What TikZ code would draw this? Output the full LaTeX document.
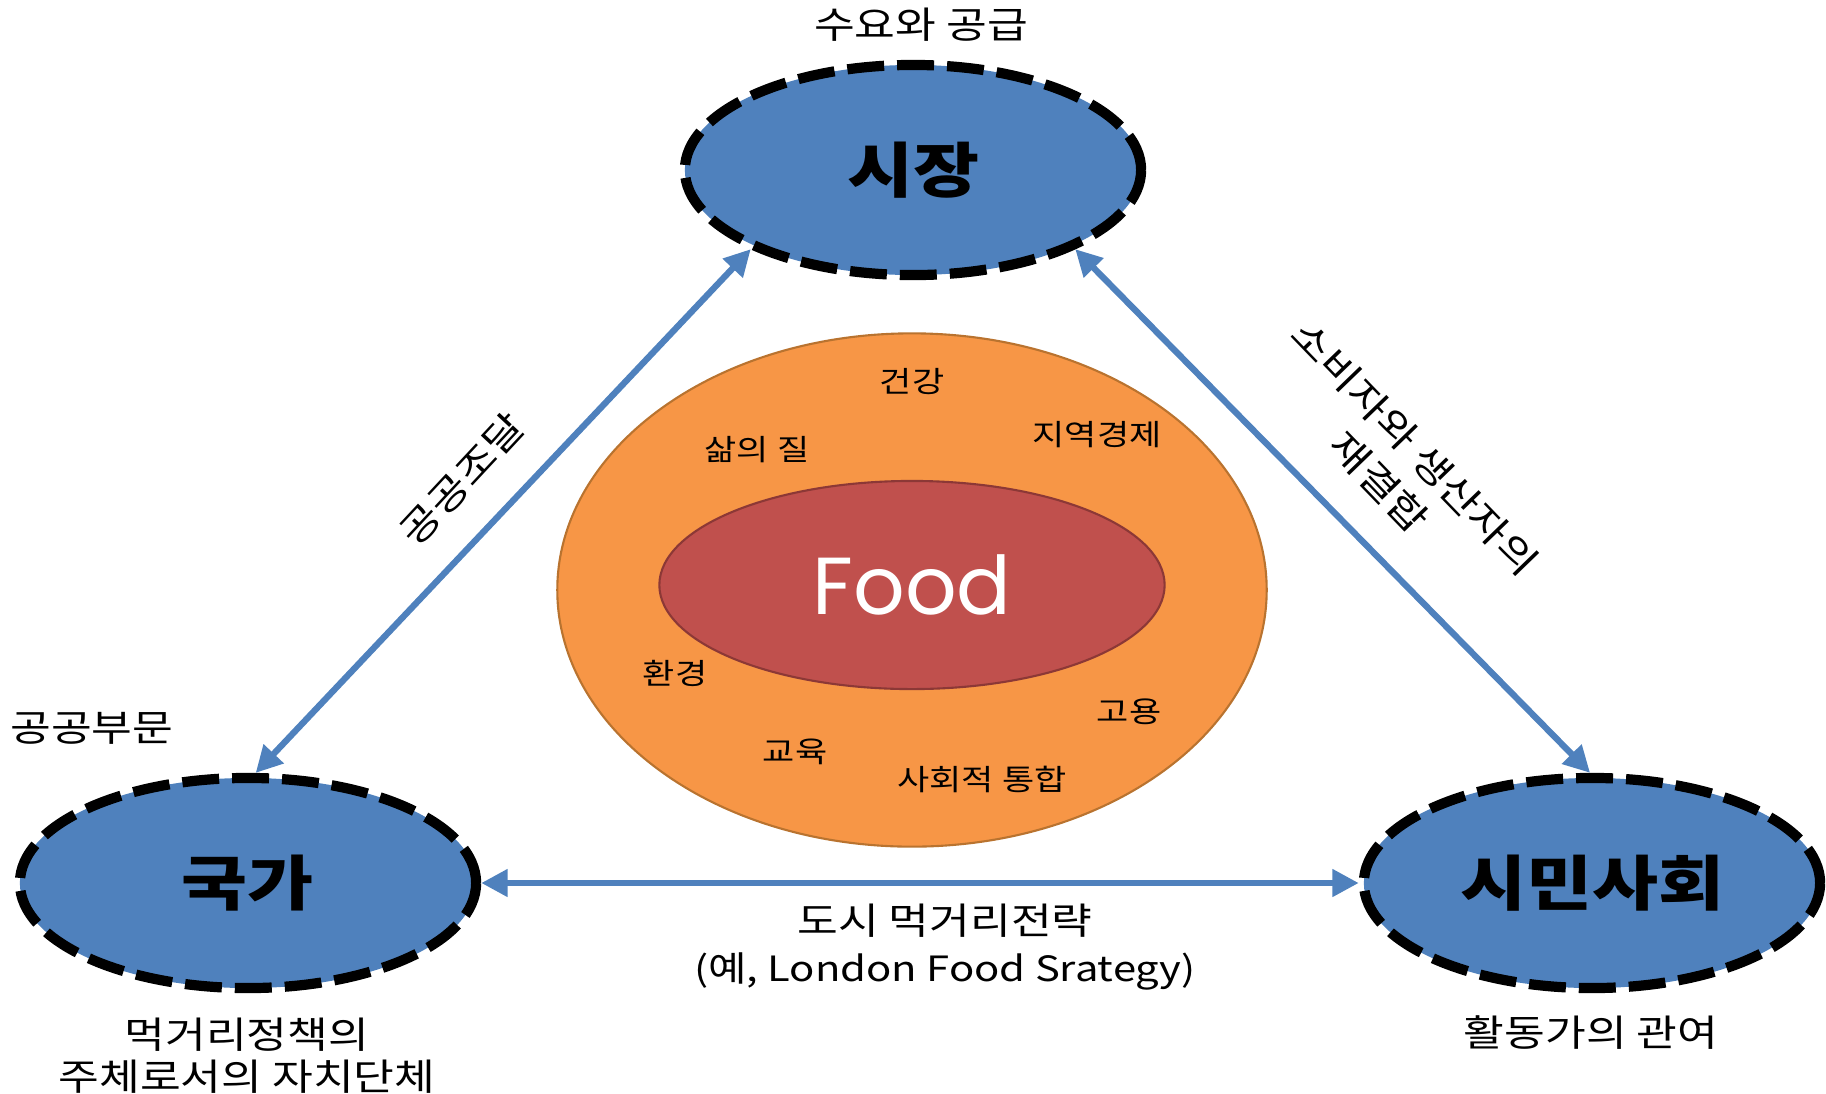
\documentclass[tikz,border=0pt]{standalone}
\usepackage{fontspec}
\setmainfont{Noto Sans CJK KR}[FakeStretch=1.2]
\newfontfamily\foodfont{Poppins}
\usetikzlibrary{shapes.geometric,arrows.meta}
\definecolor{actorblue}{HTML}{4F81BD}
\definecolor{valueorange}{HTML}{F79646}
\definecolor{valueline}{HTML}{B9732F}
\definecolor{foodred}{HTML}{C0504D}
\definecolor{foodline}{HTML}{8C3836}
\begin{document}
\begin{tikzpicture}[x=0.01cm,y=-0.01cm,
    actor/.style={ellipse,draw=black,fill=actorblue,line width=2.9pt,
      dash pattern=on 10.5pt off 3.7pt,minimum width=4.56cm,minimum height=2.1cm,
      font=\fontsize{17}{19}\selectfont\bfseries},
    tie/.style={actorblue,line width=1.8pt,
      {Triangle[length=7.5pt,width=7.5pt]}-{Triangle[length=7.5pt,width=7.5pt]}},
    note/.style={font=\fontsize{10.5}{12}\selectfont,align=center,inner sep=0pt},
    value/.style={font=\fontsize{8.3}{10}\selectfont,inner sep=0pt}]
  \useasboundingbox (0,0) rectangle (1826,1093);
  % inner circle of values
  \node[ellipse,draw=valueline,line width=0.6pt,fill=valueorange,
    minimum width=7.09cm,minimum height=5.13cm] (values) at (912,590) {};
  \node[ellipse,draw=foodline,line width=0.6pt,fill=foodred,text=white,
    minimum width=5.05cm,minimum height=2.08cm,
    font=\foodfont\fontsize{23}{26}\selectfont] (food) at (912,585) {Food};
  \draw
    (912,382) node[value] (health){건강}
    (757,450) node[value] (life){삶의 질}
    (1097,435) node[value] (economy){지역경제}
    (675,673) node[value] (environment){환경}
    (1129,712) node[value] (jobs){고용}
    (795,752) node[value] (education){교육}
    (982,779) node[value] (inclusion){사회적 통합};
  % three actors
  \node[actor] (market) at (913,170) {시장};
  \node[actor] (state) at (248,883) {국가};
  \node[actor] (civil) at (1592,883) {시민사회};
  \draw
    (921,25) node[note] (supply){수요와 공급}
    (92,728) node[note] (public){공공부문}
    (247,1056) node[note] (city){먹거리정책의\\주체로서의 자치단체}
    (1591,1033) node[note] (activist){활동가의 관여}
    (945,947) node[note,font=\fontsize{10.5}{13.5}\selectfont] (strategy){도시 먹거리전략\\{\fontsize{9.9}{13.5}\selectfont(예, London Food Srategy)}}
    (462,479) node[note,rotate=47] (procure){공공조달}
    (1397,465) node[note,rotate=-46,font=\fontsize{10.5}{14}\selectfont] (reconnect){소비자와 생산자의\\재결합};
  \begin{scope}[tie]
    \draw (market.206) to (state.86);
    \draw (market.334) to (civil.91);
    \draw (state.east) to (civil.west);
  \end{scope}
\end{tikzpicture}
\end{document}
